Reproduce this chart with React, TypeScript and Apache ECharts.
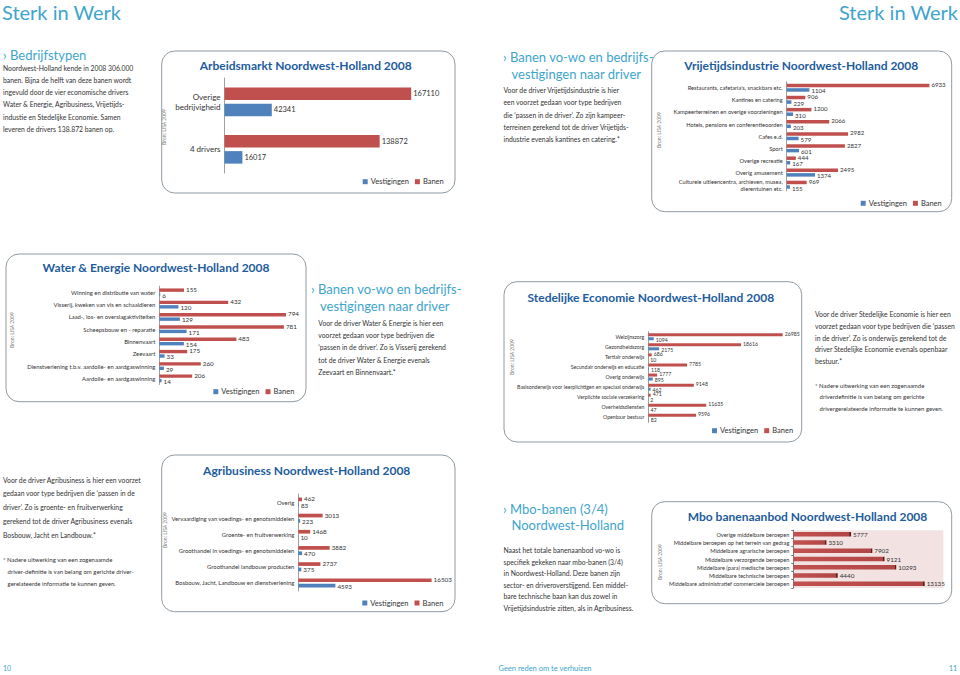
import React, { useEffect, useRef } from 'react';
import * as echarts from 'echarts';

// ---------------- DATA ----------------
const legendNames = ['Vestigingen', 'Banen'];

const arbCategories = ['Overige\nbedrijvigheid', '4 drivers'];
const arbVestigingen = [42341, 16017];
const arbBanen = [167110, 138872];

const vrijCategories = [
  "Restaurants, cafetaria's, snackbars etc.",
  'Kantines en catering',
  'Kampeerterreinen en overige voorzieningen',
  'Hotels, pensions en conferentieoorden',
  'Cafes e.d.',
  'Sport',
  'Overige recreatie',
  'Overig amusement',
  'Culturele uitleencentra, archieven, musea,\ndierentuinen etc.',
];
const vrijBanen = [6933, 906, 1200, 2066, 2982, 2827, 444, 2495, 969];
const vrijVestigingen = [1104, 229, 310, 203, 579, 601, 167, 1374, 155];

const waterCategories = [
  'Winning en distributie van water',
  'Visserij, kweken van vis en schaaldieren',
  'Laad-, los- en overslagaktiviteiten',
  'Scheepsbouw en - reparatie',
  'Binnenvaart',
  'Zeevaart',
  'Dienstverlening t.b.v. aardolie- en aardgaswinning',
  'Aardolie- en aardgaswinning',
];
const waterBanen = [155, 432, 794, 781, 483, 175, 260, 206];
const waterVestigingen = [6, 120, 129, 171, 154, 33, 29, 14];

const stedCategories = [
  'Welzijnszorg',
  'Gezondheidszorg',
  'Tertiair onderwijs',
  'Secundair onderwijs en educatie',
  'Overig onderwijs',
  'Basisonderwijs voor leerplichtigen en speciaal onderwijs',
  'Verplichte sociale verzekering',
  'Overheidsdiensten',
  'Openbaar bestuur',
];
const stedBanen = [26985, 18616, 686, 7785, 1777, 9148, 471, 11635, 9596];
const stedVestigingen = [1094, 2175, 10, 118, 895, 462, 2, 47, 82];

const agriCategories = [
  'Overig',
  'Vervaardiging van voedings- en genotsmiddelen',
  'Groente- en fruitverwerking',
  'Groothandel in voedings- en genotsmiddelen',
  'Groothandel landbouw producten',
  'Bosbouw, Jacht, Landbouw en dienstverlening',
];
const agriBanen = [462, 3013, 1468, 3882, 2737, 16503];
const agriVestigingen = [83, 223, 10, 470, 375, 4593];

const mboCategories = [
  'Overige middelbare beroepen',
  'Middelbare beroepen op het terrein van gedrag',
  'Middelbare agrarische beroepen',
  'Middelbare verzorgende beroepen',
  'Middelbare (para) medische beroepen',
  'Middelbare technische beroepen',
  'Middelbare administratief commerciele beroepen',
];
const mboBanen = [5777, 3310, 7902, 9121, 10293, 4440, 13135];

const chartTitles = [
  'Arbeidsmarkt Noordwest-Holland 2008',
  'Vrijetijdsindustrie Noordwest-Holland 2008',
  'Water & Energie Noordwest-Holland 2008',
  'Stedelijke Economie Noordwest-Holland 2008',
  'Agribusiness Noordwest-Holland 2008',
  'Mbo banenaanbod Noordwest-Holland 2008',
];
const sourceText = 'Bron: LISA 2009';

const textBedrijfstypen = [
  'Noordwest-Holland kende in 2008 306.000',
  'banen. Bijna de helft van deze banen wordt',
  'ingevuld door de vier economische drivers',
  'Water & Energie, Agribusiness, Vrijetijds-',
  'industie en Stedelijke Economie. Samen',
  'leveren de drivers 138.872 banen op.',
];
const textVrij = [
  'Voor de driver Vrijetijdsindustrie is hier',
  'een voorzet gedaan voor type bedrijven',
  'die ‘passen in de driver’. Zo zijn kampeer-',
  'terreinen gerekend tot de driver Vrijetijds-',
  'industrie evenals kantines en catering.*',
];
const textWater = [
  'Voor de driver Water & Energie is hier een',
  'voorzet gedaan voor type bedrijven die',
  '‘passen in de driver’. Zo is Visserij gerekend',
  'tot de driver Water & Energie evenals',
  'Zeevaart en Binnenvaart.*',
];
const textSted = [
  'Voor de driver Stedelijke Economie is hier een',
  'voorzet gedaan voor type bedrijven die ‘passen',
  'in de driver’. Zo is onderwijs gerekend tot de',
  'driver Stedelijke Economie evenals openbaar',
  'bestuur.*',
];
const noteSted = [
  '* Nadere uitwerking van een zogenaamde',
  '   driverdefinitie is van belang om gerichte',
  '   drivergerelateerde informatie te kunnen geven.',
];
const textAgri = [
  'Voor de driver Agribusiness is hier een voorzet',
  'gedaan voor type bedrijven die ‘passen in de',
  'driver’. Zo is groente- en fruitverwerking',
  'gerekend tot de driver Agribusiness evenals',
  'Bosbouw, Jacht en Landbouw.*',
];
const noteAgri = [
  '* Nadere uitwerking van een zogenaamde',
  '   driver-definitie is van belang om gerichte driver-',
  '   gerelateerde informatie te kunnen geven.',
];
const textMbo = [
  'Naast het totale banenaanbod vo-wo is',
  'specifiek gekeken naar mbo-banen (3/4)',
  'in Noordwest-Holland. Deze banen zijn',
  'sector- en driveroverstijgend. Een middel-',
  'bare technische baan kan dus zowel in',
  'Vrijetijdsindustrie zitten, als in Agribusiness.',
];

// ---------------- STYLE ----------------
const FONT = 'Lato, "Open Sans", sans-serif';
const TEAL = '#3ea5cd';
const TITLE_BLUE = '#1d5c9c';
const BLUE = '#4f81bd';
const RED = '#c0504d';
const TXT = '#333333';
const BORDER = '#8e9aa2';

type Spec = {
  cats: string[];
  banen: number[];
  vest?: number[];
  left: number; top: number; width: number; height: number; max: number;
  bw: number; gap: string; cf: number; vf: number; lo: number;
  mbo?: boolean;
};

const specs: Spec[] = [
  { cats: arbCategories, banen: arbBanen, vest: arbVestigingen, left: 224.5, top: 78, width: 201.1, height: 95, max: 180000, bw: 12.5, gap: '30%', cf: 8, vf: 7.5, lo: 0 },
  { cats: vrijCategories, banen: vrijBanen, vest: vrijVestigingen, left: 786.7, top: 81.6, width: 154.4, height: 109.2, max: 7500, bw: 3.5, gap: '30%', cf: 5.7, vf: 6.1, lo: 1 },
  { cats: waterCategories, banen: waterBanen, vest: waterVestigingen, left: 159.3, top: 286.2, width: 143.6, height: 98.3, max: 900, bw: 3.4, gap: '30%', cf: 5.9, vf: 6.3, lo: 0.8 },
  { cats: stedCategories, banen: stedBanen, vest: stedVestigingen, left: 648.3, top: 331.7, width: 149.4, height: 90.7, max: 30000, bw: 3, gap: '33%', cf: 5.2, vf: 5.2, lo: 0.9 },
  { cats: agriCategories, banen: agriBanen, vest: agriVestigingen, left: 298.3, top: 494, width: 145.4, height: 97, max: 18000, bw: 3.7, gap: '45%', cf: 5.9, vf: 6.3, lo: 0.5 },
  { cats: mboCategories, banen: mboBanen, left: 793.3, top: 530.2, width: 150, height: 57.7, max: 15000, bw: 4.5, gap: '30%', cf: 5.6, vf: 6.3, lo: 0, mbo: true },
];

const titlePos = [
  [305.7, 65], [801.3, 65], [156, 267], [650.8, 297.3], [306.7, 470], [807.5, 516],
];
const legendPos = [
  [362.7, 182.7], [860.7, 204.3], [213.3, 392.7], [712, 431.7], [362.3, 604],
];
const boxes = [
  [161.7, 51, 293.3, 142],
  [651.7, 51, 300, 160.7],
  [6, 254, 300, 147.7],
  [504, 281.7, 297.7, 160.3],
  [161.7, 455, 293.3, 156.7],
  [651.7, 501.7, 300, 102],
];
const sourcePos = [
  [164, 127], [659, 130], [12, 330], [512, 357], [164.5, 530], [659.5, 562],
];

function txt(text: string, x: number, y: number, o: any = {}) {
  const align = o.align || 'left';
  return {
    type: 'text',
    x, y,
    rotation: o.rotation || 0,
    silent: true,
    z: 10,
    style: {
      text,
      fill: o.color || TXT,
      fontSize: o.size || 7,
      fontFamily: FONT,
      fontWeight: o.weight || 'normal',
      textAlign: align,
      textVerticalAlign: 'middle',
      align,
      verticalAlign: 'middle',
    },
  };
}

function lines(arr: string[], x: number, y0: number, lh: number, o: any = {}) {
  return arr.map((s, i) => txt(s, x, y0 + i * lh, o));
}

function buildOption() {
  const grid: any[] = [];
  const xAxis: any[] = [];
  const yAxis: any[] = [];
  const series: any[] = [];

  specs.forEach((s, i) => {
    grid.push({
      left: s.left, top: s.top, width: s.width, height: s.height,
      containLabel: false, outerBoundsMode: 'none',
      show: !!s.mbo, backgroundColor: s.mbo ? '#f2e2e2' : 'transparent', borderWidth: 0,
    });
    xAxis.push({ type: 'value', gridIndex: i, min: 0, max: s.max, show: false });
    yAxis.push({
      type: 'category', gridIndex: i, data: s.cats, inverse: true,
      axisLine: { show: true, lineStyle: { color: s.mbo ? '#777' : '#a0a0a0', width: 1 } },
      axisTick: { show: !!s.mbo, length: 2, lineStyle: { color: '#777' } },
      axisLabel: { interval: 0, fontSize: s.cf, color: TXT, fontFamily: FONT, margin: 4, lineHeight: s.cf + 1.5 },
      splitLine: { show: false },
    });
    const mkLabel = (dy: number) => ({
      show: true, position: 'right', distance: 2, offset: [0, dy],
      fontSize: s.vf, color: TXT, fontFamily: FONT,
    });
    if (s.mbo) {
      const pxPerUnit = s.width / s.max;
      series.push({
        type: 'bar', name: 'Mbo', xAxisIndex: i, yAxisIndex: i, barWidth: s.bw, silent: true, label: mkLabel(0),
        data: s.banen.map((v) => {
          const off = Math.max(0, 1 - 1.6 / (v * pxPerUnit));
          return {
            value: v,
            itemStyle: {
              color: new echarts.graphic.LinearGradient(0, 0, 1, 0, [
                { offset: 0, color: '#c2514f' },
                { offset: off, color: '#b14646' },
                { offset: Math.min(1, off + 0.001), color: '#5a1d1d' },
                { offset: 1, color: '#5a1d1d' },
              ]),
            },
          };
        }),
      });
    } else {
      series.push({
        type: 'bar', name: 'Banen', xAxisIndex: i, yAxisIndex: i, data: s.banen,
        barWidth: s.bw, barGap: s.gap, itemStyle: { color: RED }, label: mkLabel(-s.lo), silent: true,
      });
      series.push({
        type: 'bar', name: 'Vestigingen', xAxisIndex: i, yAxisIndex: i, data: s.vest,
        barWidth: s.bw, barGap: s.gap, itemStyle: { color: BLUE }, label: mkLabel(s.lo), silent: true,
      });
    }
  });

  const legend = legendPos.map(([x, y]) => ({
    data: legendNames, left: x, top: y - 5, itemWidth: 5, itemHeight: 5, icon: 'rect',
    itemGap: 6, padding: 0, selectedMode: false,
    textStyle: { fontSize: 7.5, color: TXT, fontFamily: FONT, padding: [0, 0, 0, -2] },
  }));

  const graphic: any[] = [];
  boxes.forEach(([x, y, w, h]) => {
    graphic.push({
      type: 'rect', silent: true, z: 1,
      shape: { x, y, width: w, height: h, r: 13 },
      style: { fill: 'none', stroke: BORDER, lineWidth: 1 },
    });
  });
  chartTitles.forEach((t, i) => {
    const [x, y] = titlePos[i];
    graphic.push(txt(t, x, y, { align: 'center', size: 12, weight: 'bold', color: TITLE_BLUE }));
  });
  sourcePos.forEach(([x, y]) => {
    graphic.push(txt(sourceText, x, y, { align: 'center', size: 5, color: '#7a7a7a', rotation: Math.PI / 2 }));
  });

  // header & footer
  graphic.push(txt('Sterk in Werk', 2, 12, { size: 20, color: TEAL }));
  graphic.push(txt('Sterk in Werk', 958, 12, { size: 20, color: TEAL, align: 'right' }));
  graphic.push(txt('10', 3, 668, { size: 7, color: TEAL }));
  graphic.push(txt('Geen reden om te verhuizen', 545, 668, { size: 7.5, color: TEAL, align: 'center' }));
  graphic.push(txt('11', 957, 668, { size: 7, color: TEAL, align: 'right' }));

  // text blocks
  graphic.push(txt('› Bedrijfstypen', 3, 55, { size: 13, color: TEAL }));
  graphic.push(...lines(textBedrijfstypen, 3, 67.5, 12.3, { size: 6.8 }));

  graphic.push(txt('› Banen vo-wo en bedrijfs-', 503, 57, { size: 13, color: TEAL }));
  graphic.push(txt('vestigingen naar driver', 511.5, 74, { size: 13, color: TEAL }));
  graphic.push(...lines(textVrij, 503.5, 90, 12.3, { size: 6.8 }));

  graphic.push(txt('› Banen vo-wo en bedrijfs-', 311, 289, { size: 13, color: TEAL }));
  graphic.push(txt('vestigingen naar driver', 320, 305.5, { size: 13, color: TEAL }));
  graphic.push(...lines(textWater, 318.3, 322.5, 12.4, { size: 6.8 }));

  graphic.push(...lines(textSted, 815, 314, 11.8, { size: 6.8 }));
  graphic.push(...lines(noteSted, 815, 385, 11.8, { size: 6 }));

  graphic.push(...lines(textAgri, 3, 479.5, 13.8, { size: 6.8 }));
  graphic.push(...lines(noteAgri, 3, 559, 12, { size: 6 }));

  graphic.push(txt('› Mbo-banen (3/4)', 503, 508.5, { size: 13, color: TEAL }));
  graphic.push(txt('Noordwest-Holland', 511.5, 524.5, { size: 13, color: TEAL }));
  graphic.push(...lines(textMbo, 503.5, 550, 11.6, { size: 6.8 }));

  return {
    animation: false,
    backgroundColor: '#ffffff',
    textStyle: { fontFamily: FONT },
    grid, xAxis, yAxis, series, legend, graphic,
    tooltip: { show: false },
  };
}

export default function App() {
  const ref = useRef<HTMLDivElement>(null);
  useEffect(() => {
    if (!ref.current) return;
    const chart = echarts.init(ref.current, undefined, { renderer: 'svg' });
    chart.setOption(buildOption() as any);
    return () => chart.dispose();
  }, []);
  return (
    <div
      ref={ref}
      style={{ position: 'absolute', left: 0, top: 0, width: 960, height: 675, background: '#fff' }}
    />
  );
}
